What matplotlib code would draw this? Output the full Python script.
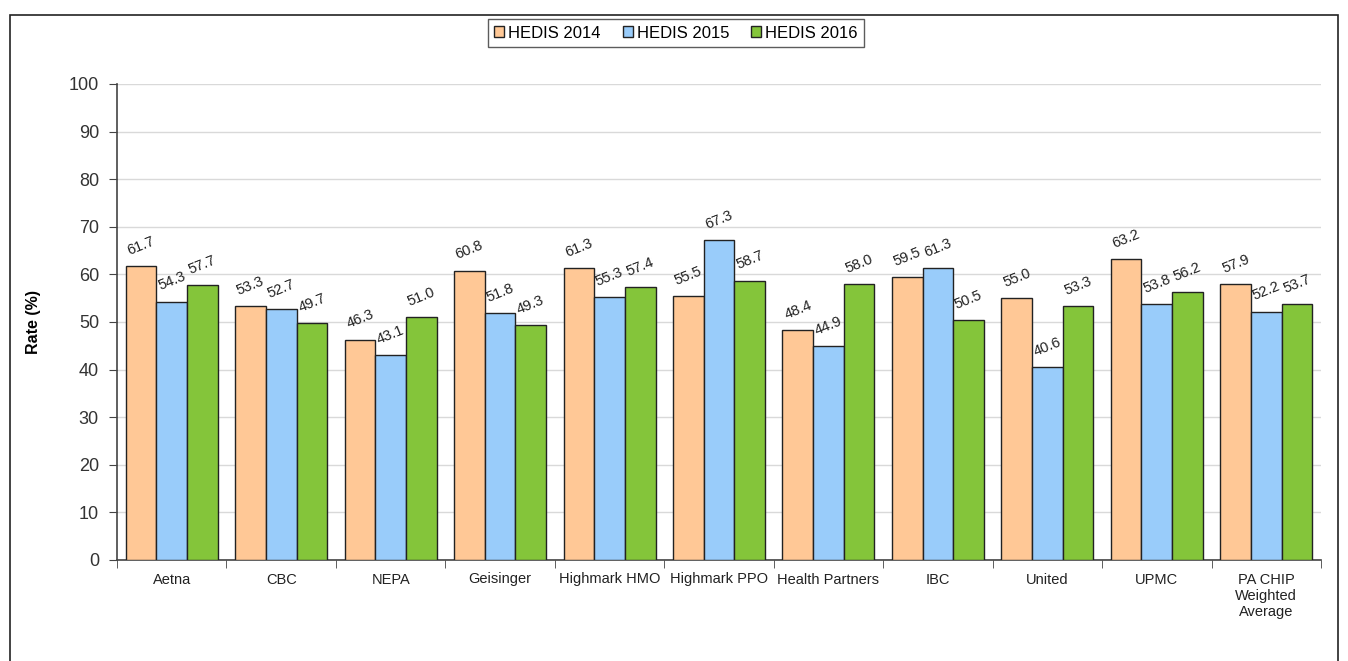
import matplotlib
matplotlib.use("Agg")
import matplotlib.pyplot as plt
import numpy as np
from matplotlib.patches import Rectangle

plt.rcParams['font.family'] = ['Liberation Sans', 'DejaVu Sans']

categories = ["Aetna", "CBC", "NEPA", "Geisinger", "Highmark HMO", "Highmark PPO",
              "Health Partners", "IBC", "United", "UPMC", "PA CHIP\nWeighted\nAverage"]
hedis_2014 = [61.7, 53.3, 46.3, 60.8, 61.3, 55.5, 48.4, 59.5, 55.0, 63.2, 57.9]
hedis_2015 = [54.3, 52.7, 43.1, 51.8, 55.3, 67.3, 44.9, 61.3, 40.6, 53.8, 52.2]
hedis_2016 = [57.7, 49.7, 51.0, 49.3, 57.4, 58.7, 58.0, 50.5, 53.3, 56.2, 53.7]
series_labels = ["HEDIS 2014", "HEDIS 2015", "HEDIS 2016"]
colors = ["#FFC896", "#99CCFA", "#84C53A"]

fig = plt.figure(figsize=(13.48, 6.61), dpi=100)
# outer frame
fig.patches.append(Rectangle((10/1348, -0.05), 1328/1348, 1.05 - 15/661,
                             transform=fig.transFigure, fill=False,
                             edgecolor="#222222", linewidth=1.2))

ax = fig.add_axes([117/1348, 1 - 560/661, (1321-117)/1348, (560-84)/661])

x = np.arange(len(categories))
w = 0.28
for i, (vals, lab, col) in enumerate(zip([hedis_2014, hedis_2015, hedis_2016], series_labels, colors)):
    pos = x + (i - 1) * w
    bars = ax.bar(pos, vals, width=w, color=col, edgecolor="#222222", linewidth=1.0, label=lab, zorder=3)
    for b, v in zip(bars, vals):
        ax.annotate(f"{v:.1f}", (b.get_x() + b.get_width()/2, v), xytext=(0, 6),
                    textcoords="offset points", ha="center", va="bottom",
                    rotation=22, fontsize=10.5, color="#222222")

ax.set_xlim(-0.5, len(categories) - 0.5)
ax.set_ylim(0, 100)
ax.set_yticks(range(0, 101, 10))
ax.yaxis.grid(True, color="#d9d9d9", linewidth=1, zorder=0)
ax.set_axisbelow(True)
ax.tick_params(axis="y", labelsize=13, colors="#444444", length=6, pad=7, direction="out", labelcolor="#333333")
ax.set_xticks(x)
ax.set_xticklabels(categories, fontsize=10.5, color="#222222")
ax.tick_params(axis="x", length=0, pad=9)
ax.set_xticks(np.arange(-0.5, len(categories), 1), minor=True)
ax.tick_params(axis="x", which="minor", length=6, color="#444444")
for s in ["top", "right"]:
    ax.spines[s].set_visible(False)
for s in ["left", "bottom"]:
    ax.spines[s].set_color("#444444")
    ax.spines[s].set_linewidth(1.2)

ax.set_ylabel("Rate (%)", fontsize=11.5, fontweight="bold", labelpad=20)

leg = fig.legend(loc="center", bbox_to_anchor=(676/1348, 1 - 33/661), ncol=3,
                 fontsize=12, frameon=True, fancybox=False, edgecolor="#333333",
                 handlelength=0.6, handleheight=0.6, handletextpad=0.25, columnspacing=1.3,
                 borderpad=0.4)
leg.get_frame().set_linewidth(1.0)

fig.savefig("out.png", dpi=100)
